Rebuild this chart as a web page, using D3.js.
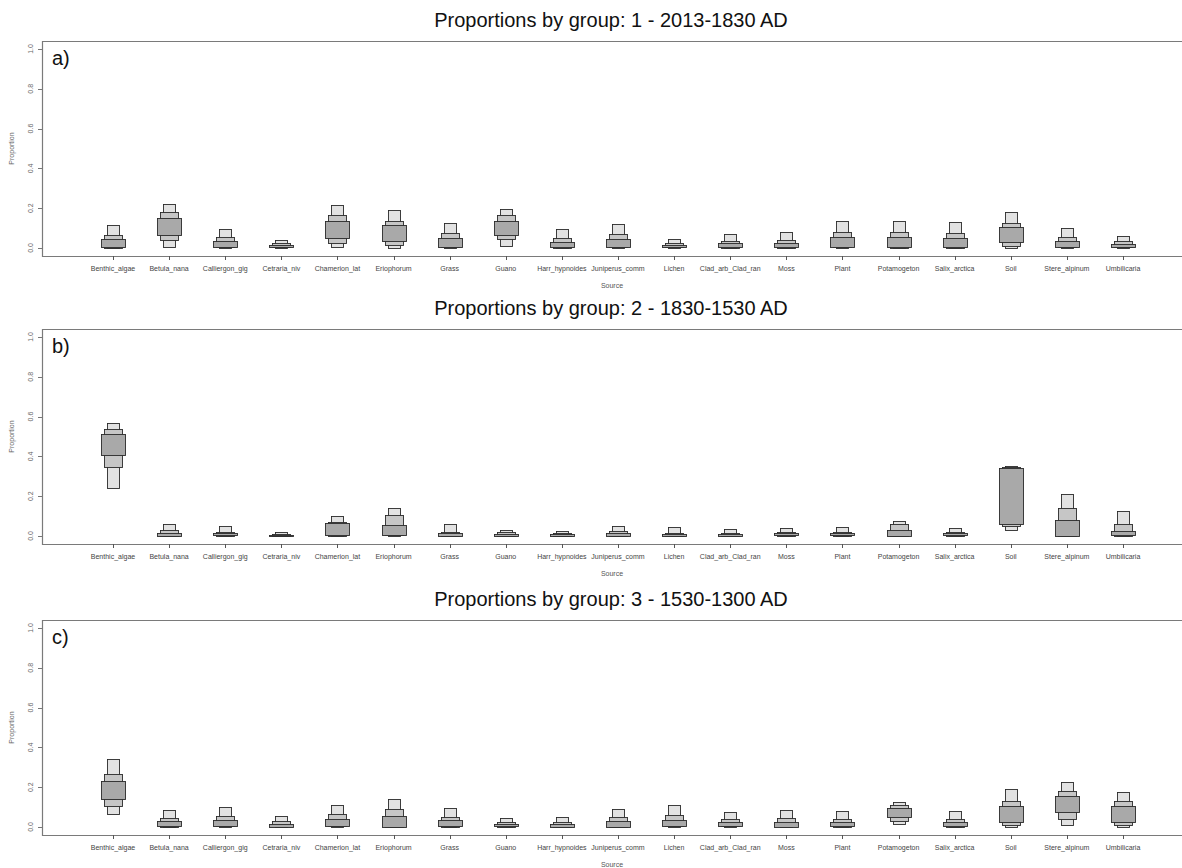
<!DOCTYPE html>
<html>
<head>
<meta charset="utf-8">
<script src="https://cdn.jsdelivr.net/npm/d3@7"></script>
<style>
  body { margin: 0; background: #fff; }
  svg { display: block; font-family: "Liberation Sans", Arial, sans-serif; }
</style>
</head>
<body>
<div id="chart"></div>
<script>
// Sources on the x axis
const sources = ["Benthic_algae", "Betula_nana", "Calliergon_gig", "Cetraria_niv", "Chamerion_lat",
  "Eriophorum", "Grass", "Guano", "Harr_hypnoides", "Juniperus_comm", "Lichen", "Clad_arb_Clad_ran",
  "Moss", "Plant", "Potamogeton", "Salix_arctica", "Soil", "Stere_alpinum", "Umbilicaria"];

const panelTitles = ["Proportions by group: 1 - 2013-1830 AD",
  "Proportions by group: 2 - 1830-1530 AD",
  "Proportions by group: 3 - 1530-1300 AD"];
const panelLetters = ["a)", "b)", "c)"];
const yTicks = [0, 0.2, 0.4, 0.6, 0.8, 1.0];

// Group 1 credible intervals (95, 75, 50 %)
const hi95A = [0.115, 0.221, 0.097, 0.039, 0.214, 0.189, 0.127, 0.194, 0.094, 0.121, 0.044, 0.070, 0.079, 0.134, 0.134, 0.129, 0.179, 0.099, 0.059];
const hi75A = [0.065, 0.179, 0.054, 0.024, 0.164, 0.137, 0.074, 0.164, 0.050, 0.069, 0.025, 0.037, 0.040, 0.079, 0.082, 0.077, 0.126, 0.054, 0.034];
const hi50A = [0.045, 0.149, 0.034, 0.017, 0.137, 0.116, 0.049, 0.137, 0.030, 0.044, 0.015, 0.025, 0.025, 0.054, 0.054, 0.050, 0.104, 0.035, 0.020];
const lo50A = [0.003, 0.065, 0.003, 0.006, 0.052, 0.037, 0.003, 0.065, 0.004, 0.003, 0.005, 0.004, 0.004, 0.003, 0.003, 0.003, 0.027, 0.004, 0.005];
const lo75A = [0.002, 0.039, 0.002, 0.003, 0.024, 0.014, 0.002, 0.044, 0.002, 0.002, 0.003, 0.002, 0.002, 0.002, 0.002, 0.002, 0.010, 0.002, 0.003];
const lo95A = [0.000, 0.005, 0.000, 0.001, 0.003, 0.000, 0.000, 0.008, 0.000, 0.000, 0.001, 0.000, 0.000, 0.000, 0.000, 0.000, 0.000, 0.000, 0.001];

// Group 2
const hi95B = [0.569, 0.062, 0.051, 0.019, 0.103, 0.140, 0.062, 0.029, 0.027, 0.049, 0.045, 0.034, 0.039, 0.044, 0.074, 0.042, 0.352, 0.212, 0.125];
const hi75B = [0.537, 0.029, 0.022, 0.010, 0.071, 0.108, 0.022, 0.019, 0.015, 0.027, 0.017, 0.014, 0.019, 0.020, 0.061, 0.020, 0.348, 0.141, 0.062];
const hi50B = [0.514, 0.017, 0.014, 0.007, 0.064, 0.056, 0.015, 0.012, 0.010, 0.015, 0.012, 0.010, 0.014, 0.014, 0.030, 0.014, 0.343, 0.081, 0.024];
const lo50B = [0.408, 0.002, 0.002, 0.002, 0.002, 0.004, 0.002, 0.002, 0.002, 0.002, 0.002, 0.002, 0.002, 0.002, 0.002, 0.002, 0.064, 0.002, 0.002];
const lo75B = [0.347, 0.001, 0.001, 0.001, 0.001, 0.010, 0.001, 0.001, 0.001, 0.001, 0.001, 0.001, 0.001, 0.001, 0.001, 0.001, 0.054, 0.001, 0.001];
const lo95B = [0.241, 0.000, 0.000, 0.000, 0.000, 0.000, 0.000, 0.000, 0.000, 0.000, 0.000, 0.000, 0.000, 0.000, 0.000, 0.000, 0.030, 0.000, 0.000];

// Group 3
const hi95C = [0.340, 0.085, 0.102, 0.055, 0.109, 0.139, 0.097, 0.047, 0.052, 0.090, 0.109, 0.074, 0.084, 0.080, 0.124, 0.080, 0.189, 0.225, 0.177];
const hi75C = [0.265, 0.047, 0.054, 0.029, 0.064, 0.090, 0.051, 0.025, 0.027, 0.050, 0.059, 0.039, 0.044, 0.042, 0.109, 0.042, 0.131, 0.181, 0.129];
const hi50C = [0.231, 0.029, 0.034, 0.017, 0.040, 0.057, 0.034, 0.015, 0.017, 0.032, 0.035, 0.024, 0.027, 0.025, 0.094, 0.025, 0.106, 0.154, 0.106];
const lo50C = [0.139, 0.003, 0.003, 0.003, 0.003, 0.003, 0.003, 0.003, 0.003, 0.003, 0.003, 0.003, 0.003, 0.003, 0.047, 0.003, 0.027, 0.072, 0.025];
const lo75C = [0.102, 0.002, 0.002, 0.002, 0.002, 0.002, 0.002, 0.002, 0.002, 0.002, 0.002, 0.002, 0.002, 0.002, 0.029, 0.002, 0.008, 0.042, 0.008];
const lo95C = [0.064, 0.000, 0.000, 0.000, 0.000, 0.000, 0.000, 0.000, 0.000, 0.000, 0.000, 0.000, 0.000, 0.000, 0.012, 0.000, 0.000, 0.010, 0.003];

const panels = [
  {lo95: lo95A, hi95: hi95A, lo75: lo75A, hi75: hi75A, lo50: lo50A, hi50: hi50A},
  {lo95: lo95B, hi95: hi95B, lo75: lo75B, hi75: hi75B, lo50: lo50B, hi50: hi50B},
  {lo95: lo95C, hi95: hi95C, lo75: lo75C, hi75: hi75C, lo50: lo50C, hi50: hi50C}
];

const width = 1182, height = 868;
const left = 42;
const panelTops = [41, 329, 620];

const svg = d3.select("#chart").append("svg")
  .attr("width", width)
  .attr("height", height);

const x = d3.scalePoint()
  .domain(sources)
  .range([113, 1123]);

// interval levels, drawn widest-interval first (narrow, light) then narrower intervals on top
const levels = [
  {lo: "lo95", hi: "hi95", half: 0.107, fill: "#e2e2e2"},
  {lo: "lo75", hi: "hi75", half: 0.16, fill: "#c6c6c6"},
  {lo: "lo50", hi: "hi50", half: 0.214, fill: "#a9a9a9"}
];

panels.forEach((p, k) => {
  const top = panelTops[k];
  const g = svg.append("g");
  const y = d3.scaleLinear().domain([0, 1]).range([top + 207, top + 8]);
  const bottom = top + 215;

  // frame: left, top, bottom
  g.append("path")
    .attr("d", `M${width},${top + 0.5}H${left + 0.5}V${bottom + 0.5}H${width}`)
    .attr("fill", "none")
    .attr("stroke", "#7a7a7a")
    .attr("stroke-width", 1.2);

  // title
  g.append("text")
    .attr("x", 611)
    .attr("y", top - 14)
    .attr("text-anchor", "middle")
    .attr("font-size", "20px")
    .attr("fill", "#111")
    .text(panelTitles[k]);

  // panel letter
  g.append("text")
    .attr("x", 52)
    .attr("y", top + 24)
    .attr("font-size", "20px")
    .attr("fill", "#111")
    .text(panelLetters[k]);

  // y axis ticks + labels (rotated)
  yTicks.forEach(t => {
    const yy = Math.round(y(t)) + 0.5;
    g.append("line")
      .attr("x1", left - 4).attr("x2", left)
      .attr("y1", yy).attr("y2", yy)
      .attr("stroke", "#777");
    g.append("text")
      .attr("transform", `translate(${left - 9},${y(t)}) rotate(-90)`)
      .attr("text-anchor", "middle")
      .attr("font-size", "7px")
      .attr("fill", "#666")
      .text(d3.format(".1f")(t));
  });

  g.append("text")
    .attr("transform", `translate(14,${(y(0) + y(1)) / 2}) rotate(-90)`)
    .attr("text-anchor", "middle")
    .attr("font-size", "7px")
    .attr("fill", "#666")
    .text("Proportion");

  // x axis ticks + labels
  sources.forEach(s => {
    const xx = Math.round(x(s)) + 0.5;
    g.append("line")
      .attr("x1", xx).attr("x2", xx)
      .attr("y1", bottom).attr("y2", bottom + 4)
      .attr("stroke", "#555");
    g.append("text")
      .attr("x", x(s))
      .attr("y", bottom + 15)
      .attr("text-anchor", "middle")
      .attr("font-size", "7px")
      .attr("fill", "#444")
      .text(s);
  });

  g.append("text")
    .attr("x", 612)
    .attr("y", bottom + 32)
    .attr("text-anchor", "middle")
    .attr("font-size", "7px")
    .attr("fill", "#555")
    .text("Source");

  // boxes
  levels.forEach(lv => {
    g.selectAll(null)
      .data(sources.map((s, i) => ({s, lo: p[lv.lo][i], hi: p[lv.hi][i]})))
      .enter()
      .append("rect")
      .attr("x", d => Math.round(x(d.s) - lv.half * x.step()) + 0.5)
      .attr("width", d => Math.round(2 * lv.half * x.step()))
      .attr("y", d => Math.round(y(d.hi)) + 0.5)
      .attr("height", d => Math.max(1, Math.round(y(d.lo) - y(d.hi))))
      .attr("fill", lv.fill)
      .attr("stroke", "#2a2a2a")
      .attr("stroke-width", 0.9);
  });
});
</script>
</body>
</html>
